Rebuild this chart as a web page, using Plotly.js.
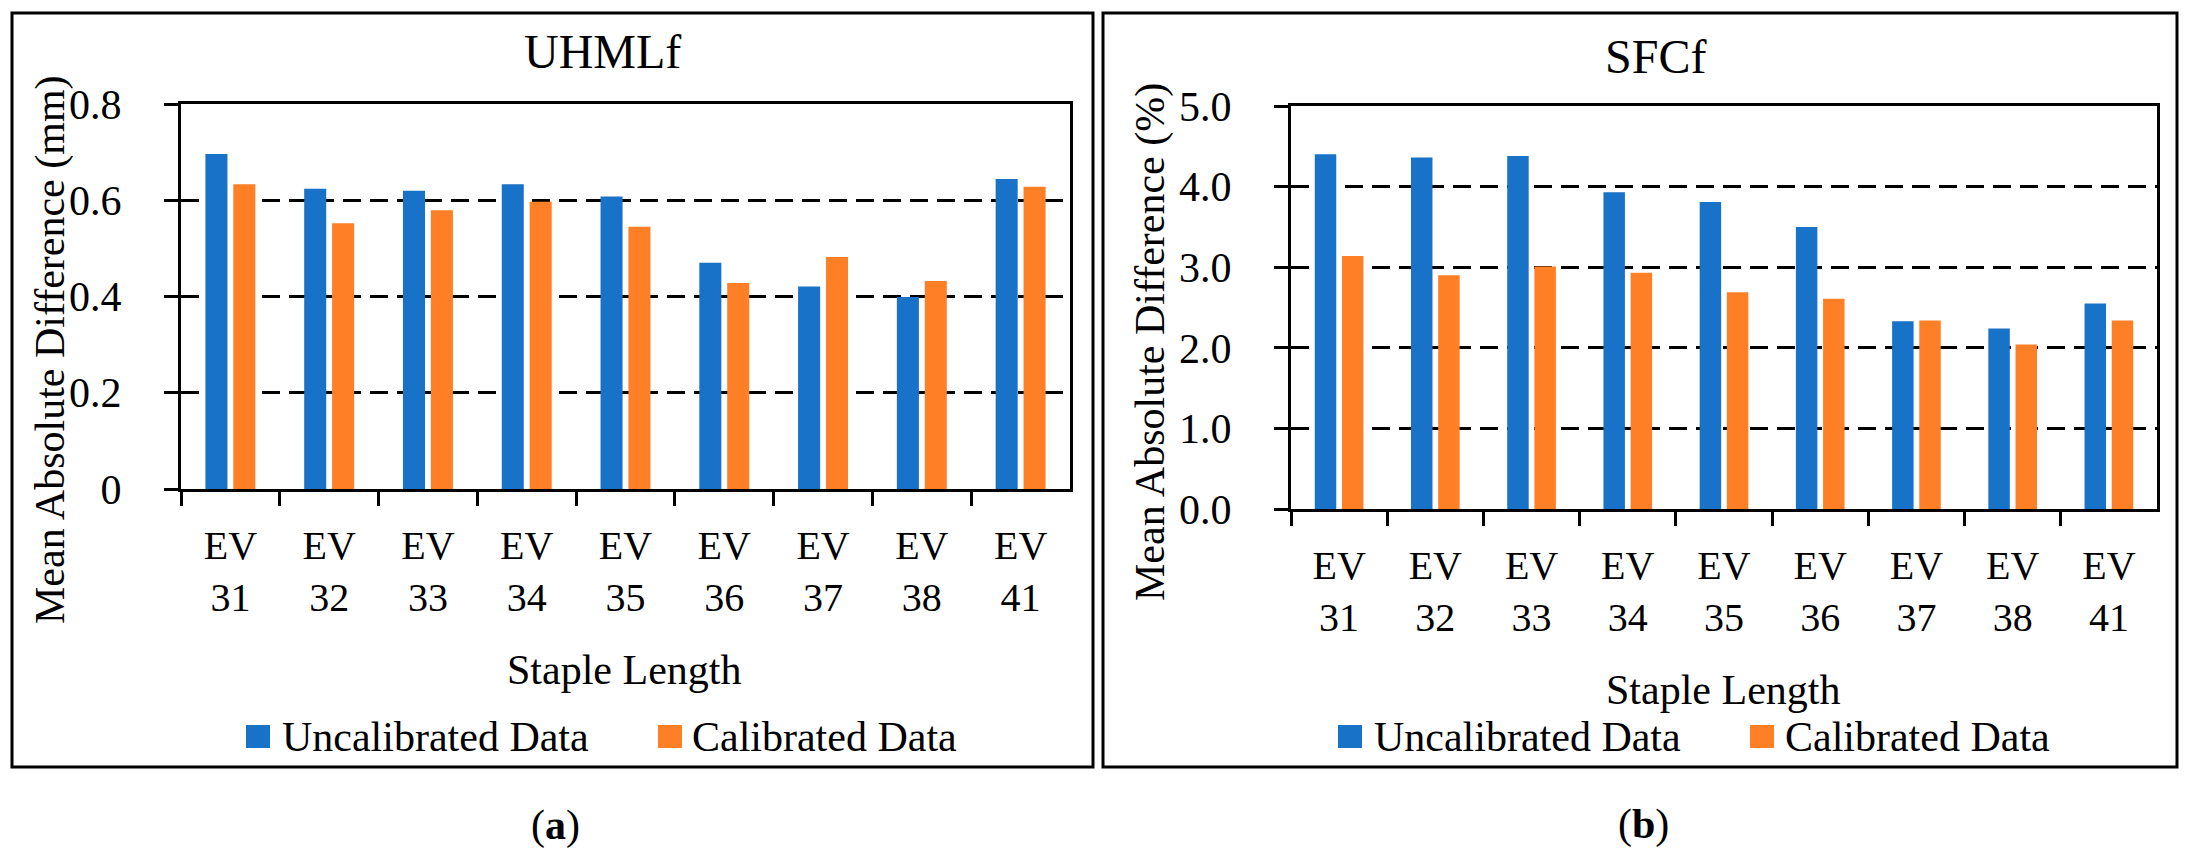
<!DOCTYPE html>
<html>
<head>
<meta charset="utf-8" />
<script src="https://cdn.plot.ly/plotly-3.0.1.min.js"></script>
<style>
  html, body { margin: 0; padding: 0; background: #ffffff; }
  #barPlot_staple { width: 2190px; height: 856px; }
</style>
</head>
<body>
<div id="barPlot_staple"></div>
<script>
// categories and tick labels
let categories = ["EV 31", "EV 32", "EV 33", "EV 34", "EV 35", "EV 36", "EV 37", "EV 38", "EV 41"];
let tickLabels = ["EV<br>31", "EV<br>32", "EV<br>33", "EV<br>34", "EV<br>35", "EV<br>36", "EV<br>37", "EV<br>38", "EV<br>41"];
let seriesNames = ["Uncalibrated Data", "Calibrated Data"];

// (a) UHMLf, mm
let uhml_uncal = [0.696, 0.624, 0.620, 0.633, 0.608, 0.470, 0.421, 0.399, 0.644];
let uhml_cal = [0.633, 0.552, 0.579, 0.597, 0.545, 0.428, 0.482, 0.432, 0.628];

// (b) SFCf, %
let sfc_uncal = [4.40, 4.36, 4.38, 3.93, 3.81, 3.50, 2.33, 2.24, 2.55];
let sfc_cal = [3.14, 2.90, 3.01, 2.93, 2.69, 2.61, 2.34, 2.04, 2.34];

var W = 2190;
var H = 856;
var colors = { blue: "#1872c7", orange: "#ff7f27" };
var FONT = "Liberation Serif, Times New Roman, serif";

// pixel -> paper helpers
var px = function (x) { return x / W; };
var py = function (y) { return 1 - y / H; };

var cb_barPlot_staple = function () {
  let trace1 = {
    x: categories, y: uhml_uncal, name: seriesNames[0],
    marker: { color: colors.blue }, type: "bar",
    xaxis: "x", yaxis: "y", showlegend: false,
  };
  let trace2 = {
    x: categories, y: uhml_cal, name: seriesNames[1],
    marker: { color: colors.orange }, type: "bar",
    xaxis: "x", yaxis: "y", showlegend: false,
  };
  let trace3 = {
    x: categories, y: sfc_uncal, name: seriesNames[0],
    marker: { color: colors.blue }, type: "bar",
    xaxis: "x2", yaxis: "y2", showlegend: false,
  };
  let trace4 = {
    x: categories, y: sfc_cal, name: seriesNames[1],
    marker: { color: colors.orange }, type: "bar",
    xaxis: "x2", yaxis: "y2", showlegend: false,
  };

  let data = [trace1, trace2, trace3, trace4];

  let xaxisBase = {
    type: "category",
    tickvals: categories,
    ticktext: tickLabels,
    tickson: "boundaries",
    ticks: "outside",
    ticklen: 14,
    tickwidth: 3,
    tickcolor: "#000",
    ticklabelstandoff: 19,
    showline: true,
    linewidth: 3,
    linecolor: "#000",
    mirror: true,
    showgrid: false,
    tickfont: { family: FONT, size: 40, color: "#000" },
    fixedrange: true,
  };

  let yaxisBase = {
    ticks: "outside",
    ticklen: 14,
    tickwidth: 3,
    tickcolor: "#000",
    ticklabelstandoff: 34,
    showline: true,
    linewidth: 3,
    linecolor: "#000",
    mirror: true,
    showgrid: true,
    gridcolor: "#000",
    gridwidth: 3,
    griddash: "18px,9px",
    zeroline: false,
    tickfont: { family: FONT, size: 42, color: "#000" },
    fixedrange: true,
  };

  let textFont = { family: FONT, size: 42, color: "#000" };

  let annotations = [
    // panel titles
    { text: "UHMLf", x: px(602), y: py(52), font: { family: FONT, size: 48, color: "#000" } },
    { text: "SFCf", x: px(1655), y: py(56), font: { family: FONT, size: 48, color: "#000" } },
    // y titles
    { text: "Mean Absolute Difference (mm)", x: px(50), y: py(350), textangle: -90, font: textFont },
    { text: "Mean Absolute Difference (%)", x: px(1150), y: py(342), textangle: -90, font: textFont },
    // x titles
    { text: "Staple Length", x: px(624), y: py(670), font: textFont },
    { text: "Staple Length", x: px(1723), y: py(690), font: textFont },
    // legend labels
    { text: seriesNames[0], x: px(280), y: py(737), xanchor: "left", font: textFont },
    { text: seriesNames[1], x: px(690), y: py(737), xanchor: "left", font: textFont },
    { text: seriesNames[0], x: px(1372), y: py(737), xanchor: "left", font: textFont },
    { text: seriesNames[1], x: px(1783), y: py(737), xanchor: "left", font: textFont },
    // sub captions
    { text: "(<b>a</b>)", x: px(555), y: py(825), font: textFont },
    { text: "(<b>b</b>)", x: px(1643), y: py(824), font: textFont },
  ].map(function (a) {
    return Object.assign({ xref: "paper", yref: "paper", showarrow: false, xanchor: "center", yanchor: "middle" }, a);
  });

  let boxLine = { color: "#000", width: 3 };
  let shapes = [
    // panel frames
    { type: "rect", x0: px(12), x1: px(1093), y0: py(767), y1: py(13), line: boxLine },
    { type: "rect", x0: px(1103), x1: px(2177), y0: py(767), y1: py(13), line: boxLine },
    // legend keys
    { type: "rect", x0: px(246), x1: px(270), y0: py(748), y1: py(725), fillcolor: colors.blue, line: { width: 0 } },
    { type: "rect", x0: px(658), x1: px(682), y0: py(748), y1: py(725), fillcolor: colors.orange, line: { width: 0 } },
    { type: "rect", x0: px(1338), x1: px(1362), y0: py(748), y1: py(725), fillcolor: colors.blue, line: { width: 0 } },
    { type: "rect", x0: px(1750), x1: px(1774), y0: py(748), y1: py(725), fillcolor: colors.orange, line: { width: 0 } },
  ].map(function (s) {
    return Object.assign({ xref: "paper", yref: "paper" }, s);
  });

  let layout = {
    width: W,
    height: H,
    margin: { l: 0, r: 0, b: 0, t: 0, pad: 0 },
    paper_bgcolor: "#ffffff",
    plot_bgcolor: "#ffffff",
    showlegend: false,
    font: { family: FONT, color: "#000" },

    xaxis: Object.assign({}, xaxisBase, { domain: [px(181), px(1070)], anchor: "y" }),
    yaxis: Object.assign({}, yaxisBase, {
      domain: [py(489), py(104)], anchor: "x",
      range: [0, 0.8], dtick: 0.2, tick0: 0,
    }),
    xaxis2: Object.assign({}, xaxisBase, { domain: [px(1291), px(2157)], anchor: "y2" }),
    yaxis2: Object.assign({}, yaxisBase, {
      domain: [py(509), py(106)], anchor: "x2",
      range: [0, 5], dtick: 1, tick0: 0, tickformat: ".1f",
    }),

    barmode: "group",
    bargap: 0.435,
    bargroupgap: 0.21,
    annotations: annotations,
    shapes: shapes,
  };
  // end layout

  let config = {
    responsive: false,
    displayModeBar: false,
    displaylogo: false,
    staticPlot: true,
  };

  Plotly.newPlot("barPlot_staple", data, layout, config);
};

function init_barPlot_staple() {
  if (
    document.readyState === "complete" ||
    (document.readyState !== "loading" && !document.documentElement.doScroll)
  ) {
    cb_barPlot_staple();
  } else {
    document.addEventListener("DOMContentLoaded", cb_barPlot_staple);
  }
}
init_barPlot_staple();
</script>
</body>
</html>
